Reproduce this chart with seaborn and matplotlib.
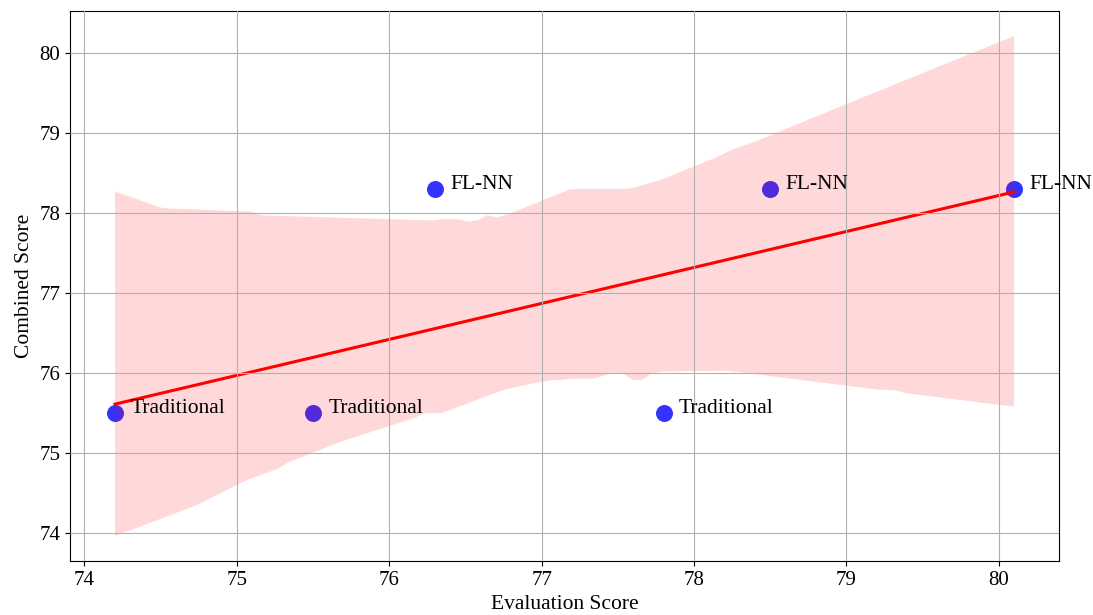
import numpy as np
import pandas as pd
import seaborn as sns
import matplotlib.pyplot as plt

# data
eval_score = [74.2, 75.5, 77.8, 76.3, 78.5, 80.1]
combined_score = [75.5, 75.5, 75.5, 78.3, 78.3, 78.3]
method = ["Traditional", "Traditional", "Traditional", "FL-NN", "FL-NN", "FL-NN"]

df = pd.DataFrame({"eval": eval_score, "combined": combined_score, "method": method})

plt.rcParams["font.family"] = ["Liberation Serif", "DejaVu Serif"]

fig = plt.figure(figsize=(10.93, 6.15), dpi=100)
ax = fig.add_axes([70 / 1093, 1 - 561 / 615, (1059 - 70) / 1093, (561 - 11) / 615])

# points first, regression line + band drawn over them
ax.scatter(df["eval"], df["combined"], color="blue", s=150, alpha=0.8, linewidths=0)
sns.regplot(data=df, x="eval", y="combined", scatter=False, ax=ax,
            color="red", ci=95, seed=42, line_kws={"linewidth": 2.2})

for _, r in df.iterrows():
    ax.text(r["eval"] + 0.1, r["combined"], r["method"], fontsize=15.5)

ax.grid(True, color="#b0b0b0", linewidth=0.8)
ax.set_axisbelow(False)
ax.set_xlabel("Evaluation Score", fontsize=15.5)
ax.set_ylabel("Combined Score", fontsize=15.5)
ax.tick_params(labelsize=15)

fig.savefig("out.png", dpi=100)
